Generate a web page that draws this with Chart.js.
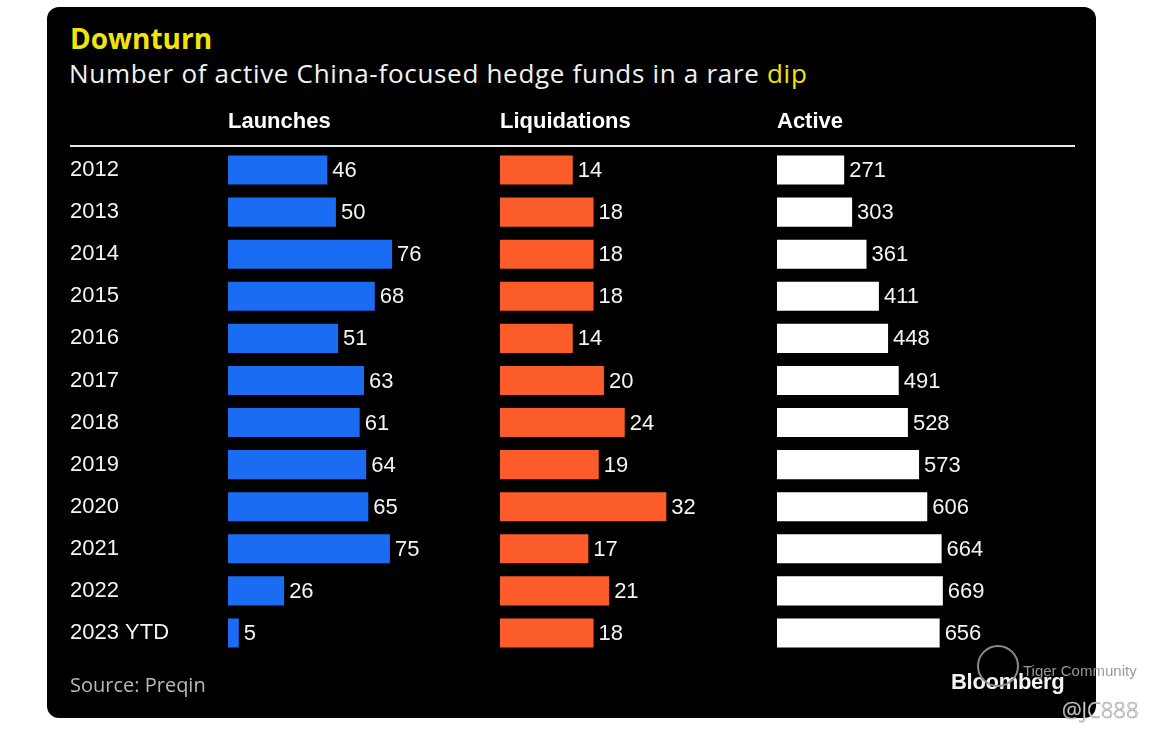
<!DOCTYPE html>
<html>
<head>
<meta charset="utf-8">
<script src="https://cdn.jsdelivr.net/npm/chart.js@4.4.0/dist/chart.umd.min.js"></script>
<style>
html,body{margin:0;padding:0;background:#fff;width:1165px;height:735px;overflow:hidden;}
#panel{position:absolute;left:47px;top:7px;width:1049px;height:711px;background:#000;border-radius:12px;}
.t{position:absolute;white-space:nowrap;line-height:1;}
#title{left:70px;top:19px;font:700 28px 'Open Sans';color:#f2e30a;}
#subtitle{left:69px;top:55px;font:400 26px 'Open Sans';letter-spacing:0.7px;color:#f2f2f2;}
#subtitle span{color:#f2e30a;}
#source{left:70px;top:671px;font:400 20px 'Open Sans';color:#b8b8b8;}
#brand{left:951px;top:669px;font:700 22px 'Liberation Sans';color:#f4f4f4;letter-spacing:-0.3px;}
#wm1{left:1023px;top:662px;font:400 15px 'Liberation Sans';color:#9a9a9a;}
#wm2{left:1062px;top:694px;font:300 22px 'Noto Sans';color:#f4f4f4;-webkit-text-stroke:0.6px #9a9a9a;}
#wmc{position:absolute;left:977px;top:645px;width:38px;height:38px;border:2px solid #8a8a8a;border-radius:50%;}
#c{position:absolute;left:0;top:0;}
</style>
</head>
<body>
<div id="panel"></div>
<div class="t" id="title">Downturn</div>
<div class="t" id="subtitle">Number of active China-focused hedge funds in a rare <span>dip</span></div>
<canvas id="c" width="1165" height="735"></canvas>
<div class="t" id="source">Source: Preqin</div>
<div class="t" id="brand">Bloomberg</div>
<div id="wmc"></div>
<div class="t" id="wm1">Tiger Community</div>
<div class="t" id="wm2">@JC888</div>
<script>
const years = ['2012','2013','2014','2015','2016','2017','2018','2019','2020','2021','2022','2023 YTD'];
const launches = [46,50,76,68,51,63,61,64,65,75,26,5];
const liquidations = [14,18,18,18,14,20,24,19,32,17,21,18];
const active = [271,303,361,411,448,491,528,573,606,664,669,656];
const headers = ['Launches','Liquidations','Active'];

function xAxis(title, max, weight) {
  return {
    type: 'linear', position: 'top', stack: 'cols', stackWeight: weight,
    min: 0, max: max,
    grid: {display: false}, border: {display: false},
    ticks: {display: false},
    title: {display: true, text: title, align: 'start', color: '#ffffff',
      font: {family: 'Liberation Sans', size: 22, weight: 'bold'}, padding: {top: 0, bottom: 0}},
    afterFit(s) { s.height = 40; }
  };
}

const valueLabels = {
  id: 'valueLabels',
  afterDatasetsDraw(chart) {
    const ctx = chart.ctx;
    ctx.save();
    ctx.font = '22px "Liberation Sans"';
    ctx.fillStyle = '#f4f4f4';
    ctx.textBaseline = 'middle';
    ctx.textAlign = 'left';
    chart.data.datasets.forEach((ds, i) => {
      chart.getDatasetMeta(i).data.forEach((el, j) => {
        ctx.fillText(String(ds.data[j]), el.x + 5, el.y + 1);
      });
    });
    ctx.restore();
  }
};

const headerRule = {
  id: 'headerRule',
  beforeDatasetsDraw(chart) {
    const ctx = chart.ctx, a = chart.chartArea, y = chart.scales.y;
    ctx.save();
    ctx.strokeStyle = '#e8e8e8';
    ctx.lineWidth = 2;
    ctx.beginPath();
    ctx.moveTo(y.left, a.top - 3);
    ctx.lineTo(a.right, a.top - 3);
    ctx.stroke();
    ctx.restore();
  }
};

new Chart(document.getElementById('c'), {
  type: 'bar',
  data: {
    labels: years,
    datasets: [
      {label: headers[0], data: launches, xAxisID: 'xL', backgroundColor: '#1a6cf2'},
      {label: headers[1], data: liquidations, xAxisID: 'xQ', backgroundColor: '#fb5c2a'},
      {label: headers[2], data: active, xAxisID: 'xA', backgroundColor: '#ffffff'}
    ].map(d => Object.assign(d, {grouped: false, barPercentage: 0.69, categoryPercentage: 1, borderWidth: 0}))
  },
  options: {
    indexAxis: 'y',
    responsive: false,
    animation: false,
    devicePixelRatio: 1,
    layout: {padding: {left: 70, right: 90, top: 109, bottom: 81}},
    plugins: {legend: {display: false}, tooltip: {enabled: false}},
    scales: {
      y: {
        type: 'category', position: 'left',
        grid: {display: false}, border: {display: false},
        ticks: {color: '#f4f4f4', crossAlign: 'far', padding: 0,
          font: {family: 'Liberation Sans', size: 22}},
        afterFit(s) { s.width = 158; }
      },
      // top-stacked axes are laid out in reverse definition order
      xA: xAxis(headers[2], 1202, 298),
      xQ: xAxis(headers[1], 53.3, 277),
      xL: xAxis(headers[0], 126, 272)
    }
  },
  plugins: [headerRule, valueLabels]
});
</script>
</body>
</html>
